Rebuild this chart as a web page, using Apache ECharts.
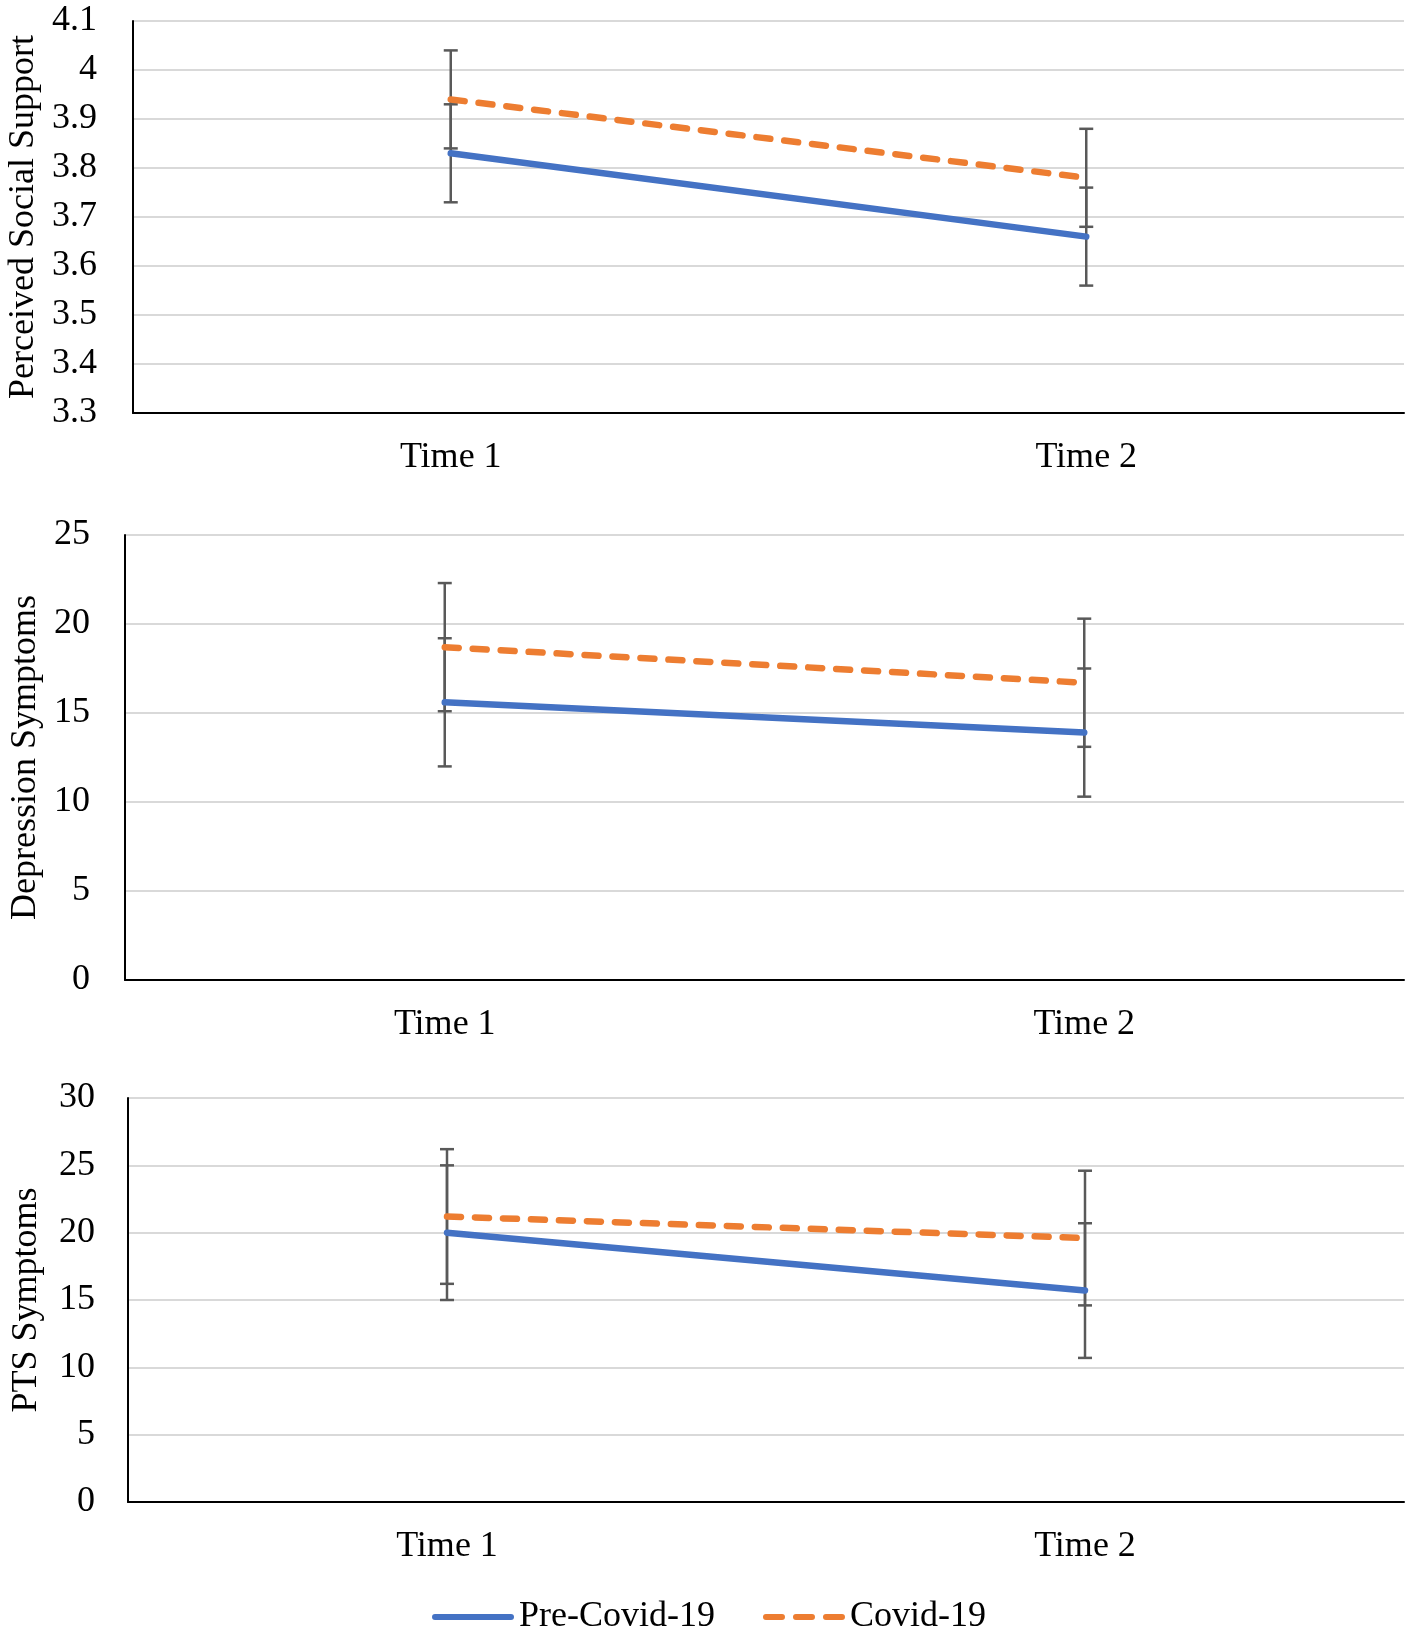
<!DOCTYPE html>
<html>
<head>
<meta charset="utf-8">
<script src="https://cdn.jsdelivr.net/npm/echarts@6/dist/echarts.min.js"></script>
<style>
html,body{margin:0;padding:0;background:#fff;}
#chart{width:1418px;height:1635px;}
</style>
</head>
<body>
<div id="chart"></div>
<script>
// ---- data ----
const categories = ['Time 1', 'Time 2'];
const seriesNames = ['Pre-Covid-19', 'Covid-19'];

const pssPre = [3.83, 3.66];
const pssCovid = [3.94, 3.78];
const pssPreErr = [0.10, 0.10];
const pssCovidErr = [0.10, 0.10];

const depPre = [15.6, 13.9];
const depCovid = [18.7, 16.7];
const depPreErr = [3.6, 3.6];
const depCovidErr = [3.6, 3.6];

const ptsPre = [20.0, 15.7];
const ptsCovid = [21.2, 19.6];
const ptsPreErr = [5.0, 5.0];
const ptsCovidErr = [5.0, 5.0];

const axisNames = ['Perceived Social Support', 'Depression Symptoms', 'PTS Symptoms'];
const yMin = [3.3, 0, 0];
const yMax = [4.1, 25, 30];
const yInterval = [0.1, 5, 5];

// ---- styling ----
const FONT = '"Liberation Serif", "Times New Roman", serif';
const BLUE = '#4472C4';
const ORANGE = '#ED7D31';

const grids = [
  {left: 133, right: 14, top: 21, height: 392, outerBoundsMode: 'none', containLabel: false},
  {left: 125, right: 14, top: 535, height: 445, outerBoundsMode: 'none', containLabel: false},
  {left: 128, right: 14, top: 1098, height: 404, outerBoundsMode: 'none', containLabel: false}
];
const labelMargins = [36, 35, 33];
const nameGaps = [88, 78, 83];

function errData(vals, errs) {
  return vals.map((v, i) => [i, v - errs[i], v + errs[i]]);
}

function renderErr(params, api) {
  const x = api.value(0);
  const lo = api.value(1);
  const hi = api.value(2);
  const pTop = api.coord([x, hi]);
  const pBot = api.coord([x, lo]);
  const w = 7;
  const st = {stroke: '#595959', lineWidth: 2.5};
  return {
    type: 'group',
    children: [
      {type: 'line', shape: {x1: pTop[0], y1: pTop[1], x2: pBot[0], y2: pBot[1]}, style: st},
      {type: 'line', shape: {x1: pTop[0] - w, y1: pTop[1], x2: pTop[0] + w, y2: pTop[1]}, style: st},
      {type: 'line', shape: {x1: pBot[0] - w, y1: pBot[1], x2: pBot[0] + w, y2: pBot[1]}, style: st}
    ]
  };
}

const panels = [
  {pre: pssPre, covid: pssCovid, preErr: pssPreErr, covidErr: pssCovidErr},
  {pre: depPre, covid: depCovid, preErr: depPreErr, covidErr: depCovidErr},
  {pre: ptsPre, covid: ptsCovid, preErr: ptsPreErr, covidErr: ptsCovidErr}
];

const xAxes = [], yAxes = [], series = [];
panels.forEach((p, i) => {
  xAxes.push({
    type: 'category', gridIndex: i, data: categories, boundaryGap: true,
    axisLine: {lineStyle: {color: '#000', width: 2}},
    axisTick: {show: false},
    axisLabel: {fontFamily: FONT, fontSize: 36, color: '#000', margin: 27}
  });
  yAxes.push({
    type: 'value', gridIndex: i, min: yMin[i], max: yMax[i], interval: yInterval[i],
    name: axisNames[i], nameLocation: 'middle', nameGap: nameGaps[i],
    nameTextStyle: {fontFamily: FONT, fontSize: 36, color: '#000'},
    axisLine: {show: true, lineStyle: {color: '#000', width: 2}},
    axisTick: {show: false},
    axisLabel: {fontFamily: FONT, fontSize: 36, color: '#000', margin: labelMargins[i],
      formatter: v => String(Math.round(v * 10) / 10)},
    splitLine: {lineStyle: {color: '#d9d9d9', width: 2}}
  });
  series.push({
    type: 'custom', name: 'err-pre-' + i, xAxisIndex: i, yAxisIndex: i,
    renderItem: renderErr, data: errData(p.pre, p.preErr),
    encode: {x: 0, y: [1, 2]}, z: 1, silent: true
  });
  series.push({
    type: 'custom', name: 'err-covid-' + i, xAxisIndex: i, yAxisIndex: i,
    renderItem: renderErr, data: errData(p.covid, p.covidErr),
    encode: {x: 0, y: [1, 2]}, z: 1, silent: true
  });
  series.push({
    type: 'line', name: seriesNames[0], xAxisIndex: i, yAxisIndex: i,
    data: p.pre, symbol: 'none', z: 3,
    itemStyle: {color: BLUE},
    lineStyle: {color: BLUE, width: 6.5, cap: 'round'}
  });
  series.push({
    type: 'line', name: seriesNames[1], xAxisIndex: i, yAxisIndex: i,
    data: p.covid, symbol: 'none', z: 3,
    itemStyle: {color: ORANGE},
    lineStyle: {color: ORANGE, width: 6.5, type: [14, 14], cap: 'round'}
  });
});

const chart = echarts.init(document.getElementById('chart'), null, {renderer: 'canvas'});
chart.setOption({
  animation: false,
  backgroundColor: '#fff',
  grid: grids,
  xAxis: xAxes,
  yAxis: yAxes,
  legend: {
    data: [
      {name: seriesNames[0], icon: 'path://M3,0 L79,0 A3,3 0 0 1 79,6 L3,6 A3,3 0 0 1 3,0 Z'},
      {name: seriesNames[1], icon: 'path://M3,0 L19,0 A3,3 0 0 1 19,6 L3,6 A3,3 0 0 1 3,0 Z M33,0 L49,0 A3,3 0 0 1 49,6 L33,6 A3,3 0 0 1 33,0 Z M63,0 L79,0 A3,3 0 0 1 79,6 L63,6 A3,3 0 0 1 63,0 Z'}
    ],
    top: 1594,
    left: 'center',
    itemWidth: 82,
    itemHeight: 6,
    itemGap: 48,
    textStyle: {fontFamily: FONT, fontSize: 36, color: '#000'}
  },
  series: series
});
</script>
</body>
</html>
